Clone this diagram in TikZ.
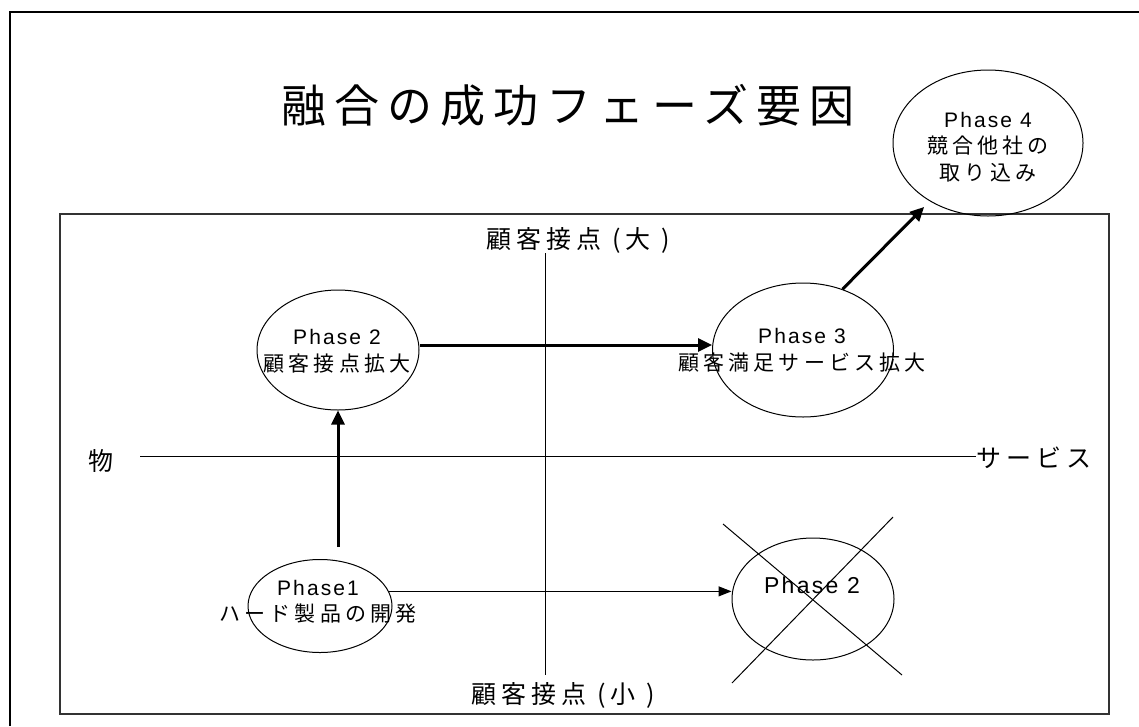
\documentclass[tikz,border=0pt]{standalone}
\usepackage{fontspec}
\setmainfont{Noto Sans CJK JP}
\newfontfamily\lat{Liberation Sans}[LetterSpace=10]
\newfontfamily\jp{Noto Sans CJK JP}[LetterSpace=20]
\newfontfamily\jptitle{Noto Sans CJK JP}[LetterSpace=18]
\usetikzlibrary{shapes.geometric,arrows.meta,calc}
\tikzset{
  phase/.style={draw, ellipse, line width=1pt, inner sep=0pt},
  txt/.style={align=center, inner sep=0pt, font=\fontsize{21}{26.5}\selectfont},
  axlabel/.style={inner sep=0pt, font=\fontsize{25}{30}\selectfont\jp},
  thick arrow/.style={line width=3pt, -{Triangle[length=14pt,width=13pt]}},
  thin arrow/.style={line width=1pt, -{Triangle[length=13pt,width=10pt]}},
}
\begin{document}
\begin{tikzpicture}[x=1pt,y=-1pt]
\useasboundingbox[fill=white] (0,0) rectangle (1139,726);
% outer frame (partly beyond the page)
\draw[line width=2.5pt] (10,726) -- (10,12) -- (1139,12);
% inner frame
\draw[line width=1.3pt, black!80] (60,214) rectangle (1109,714);
% title
\node[inner sep=0pt, font=\fontsize{45}{50}\selectfont\jptitle] (title) at (568,105) {融合の成功フェーズ要因};
% axes labels
\node[axlabel] (top) at (578,240) {顧客接点 (大 )};
\node[axlabel] (bot) at (563,695) {顧客接点 (小 )};
\node[axlabel] (left) at (101,461) {物};
\node[axlabel] (right) at (1034,458) {サービス};
\coordinate (vtop) at (545,253);
\coordinate (vbot) at (545,675);
\coordinate (hleft) at (140,456);
\draw[line width=0.9pt] (vtop) -- (vbot);
\draw[line width=0.9pt] (hleft) -- (hleft -| right.west);
% ellipses
\node[phase, minimum width=162pt, minimum height=120pt] (p2) at (338,350) {};
\node[phase, minimum width=181pt, minimum height=134pt] (p3) at (803,350) {};
\node[phase, minimum width=190pt, minimum height=146pt] (p4) at (988,143) {};
\node[phase, minimum width=144pt, minimum height=93pt] (p1) at (320,606) {};
\node[phase, minimum width=162pt, minimum height=122pt] (px) at (813,599) {};
% texts
\node[txt] (t2) at (337,351) {{\lat Phase 2}\\{\jp 顧客接点拡大}};
\node[txt] (t3) at (802,350) {{\lat Phase 3}\\{\jp 顧客満足サービス拡大}};
\node[txt] (t4) at (988,147) {{\lat Phase 4}\\{\jp 競合他社の}\\{\jp 取り込み}};
\node[txt] (t1) at (318,602) {{\lat Phase1}\\{\jp ハード製品の開発}};
\node[txt, font=\fontsize{23}{28}\selectfont] (tx) at (812,585) {{\lat Phase 2}};
% cross
\draw[line width=1pt] (723,524) -- (902,675);
\draw[line width=1pt] (893,517) -- (732,683);
% arrows
\draw[thick arrow] ($(p2.south |- p1.north)+(0,-12)$) -- (p2.south);
\draw[thick arrow] ($(p2.east)+(0,-5)$) -- ($(p2.east -| p3.west)+(0,-5)$);
\draw[thick arrow, shorten >=8pt] (p3.57) -- (p4.225);
\draw[thin arrow] (p1.12) -- (p1.12 -| px.west);
\end{tikzpicture}
\end{document}
